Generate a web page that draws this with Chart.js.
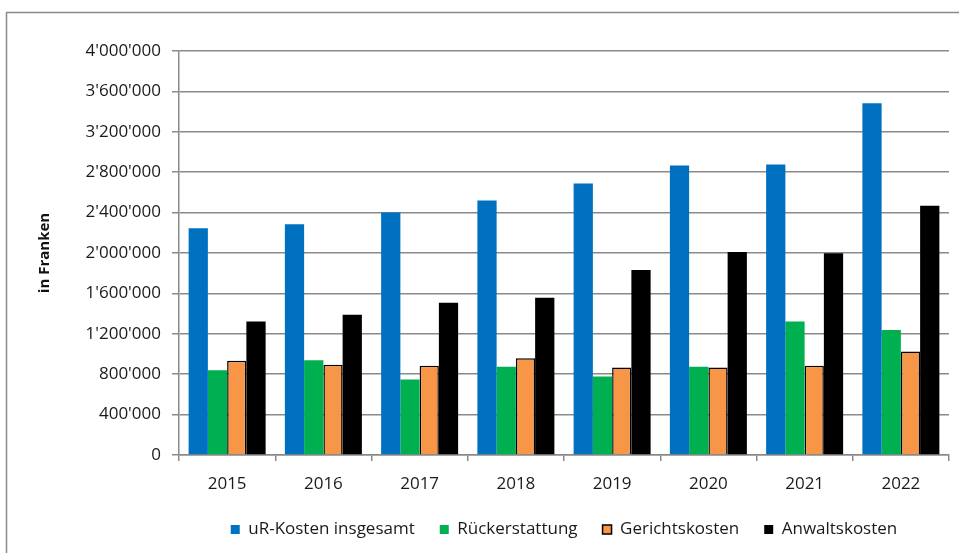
<!DOCTYPE html>
<html>
<head>
<meta charset="utf-8">
<script src="https://cdn.jsdelivr.net/npm/chart.js@4"></script>
<style>
  html, body { margin: 0; padding: 0; background: #fff; }
  #wrap { width: 959px; height: 553px; }
</style>
</head>
<body>
<div id="wrap"><canvas id="kostenChart" width="959" height="553"></canvas></div>
<script>
const years = ['2015', '2016', '2017', '2018', '2019', '2020', '2021', '2022'];
const urKosten = [2245000, 2285000, 2400000, 2520000, 2688000, 2867000, 2877000, 3482000];
const rueckerstattung = [840000, 939000, 747000, 873000, 777000, 873000, 1323000, 1237000];
const gerichtskosten = [933000, 893000, 883000, 959000, 866000, 866000, 883000, 1025000];
const anwaltskosten = [1323000, 1389000, 1508000, 1558000, 1832000, 2011000, 1997000, 2467000];

const fmt = v => String(v).replace(/\B(?=(\d{3})+(?!\d))/g, "'");

// grey frame around the whole chart (only top and left are visible)
const framePlugin = {
  id: 'frame',
  beforeDraw(chart) {
    const ctx = chart.ctx;
    ctx.save();
    ctx.fillStyle = '#fff';
    ctx.fillRect(0, 0, chart.width, chart.height);
    ctx.strokeStyle = '#8a8a8a';
    ctx.lineWidth = 1.5;
    ctx.beginPath();
    ctx.moveTo(6.5, chart.height);
    ctx.lineTo(6.5, 12.5);
    ctx.lineTo(chart.width, 12.5);
    ctx.stroke();
    ctx.restore();
  }
};

const ctx = document.getElementById('kostenChart').getContext('2d');
new Chart(ctx, {
  type: 'bar',
  data: {
    labels: years,
    datasets: [
      { label: 'uR-Kosten insgesamt', data: urKosten, backgroundColor: '#0070C0', borderWidth: 0 },
      { label: 'Rückerstattung', data: rueckerstattung, backgroundColor: '#00B050', borderWidth: 0 },
      { label: 'Gerichtskosten', data: gerichtskosten, backgroundColor: '#F79646', borderColor: '#000', borderWidth: 1.5 },
      { label: 'Anwaltskosten', data: anwaltskosten, backgroundColor: '#000', borderColor: '#000', borderWidth: 0 }
    ]
  },
  options: {
    responsive: false,
    animation: false,
    devicePixelRatio: 1,
    layout: { padding: { left: 0, top: 51, right: 10, bottom: 5 } },
    datasets: { bar: { categoryPercentage: 0.8, barPercentage: 1.0 } },
    plugins: {
      tooltip: { enabled: false },
      legend: {
        position: 'bottom',
        fullSize: false,
        labels: {
          boxWidth: 9,
          boxHeight: 9,
          padding: 25,
          color: '#1a1a1a',
          font: { family: 'Open Sans', size: 17 }
        }
      }
    },
    scales: {
      x: {
        grid: { offset: true, drawOnChartArea: false, color: '#8a8a8a', lineWidth: 1.5, tickLength: 6 },
        border: { color: '#8a8a8a', width: 1.5 },
        ticks: { color: '#1a1a1a', padding: 13, font: { family: 'Open Sans', size: 17 } },
        afterFit: s => { s.height = 41; }
      },
      y: {
        min: 0,
        max: 4000000,
        ticks: {
          stepSize: 400000,
          color: '#1a1a1a',
          padding: 11,
          font: { family: 'Open Sans', size: 17 },
          callback: v => fmt(v)
        },
        grid: { color: '#8a8a8a', lineWidth: 1.5, tickLength: 7 },
        border: { color: '#8a8a8a', width: 1.5 },
        title: {
          display: true,
          text: 'in Franken',
          color: '#111',
          font: { family: 'Open Sans', size: 15, weight: 'bold' },
          padding: { top: 36, bottom: 0 }
        },
        afterFit: s => { s.width = 179; }
      }
    }
  },
  plugins: [framePlugin]
});
</script>
</body>
</html>
